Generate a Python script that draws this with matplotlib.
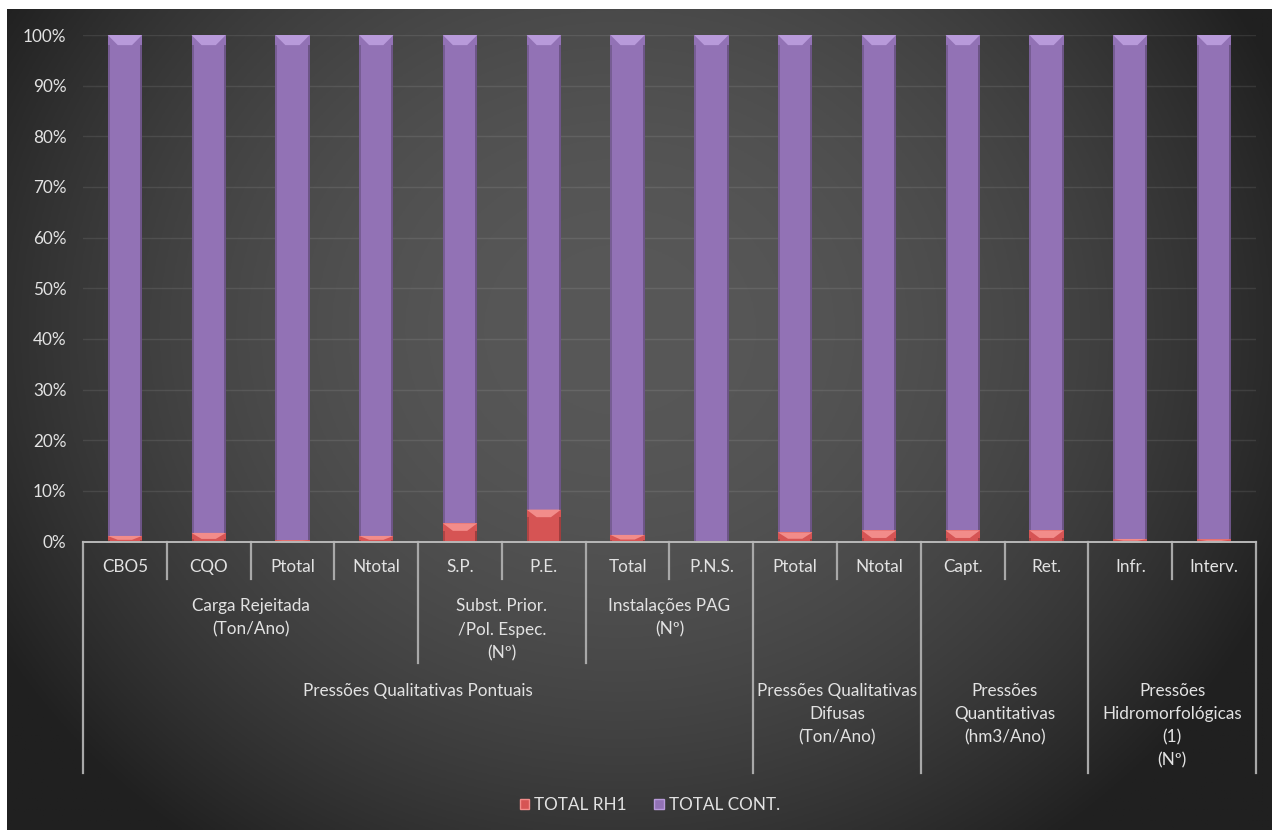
import numpy as np
import matplotlib
matplotlib.use("Agg")
import matplotlib.pyplot as plt
from matplotlib.patches import Patch, Polygon, Rectangle
from matplotlib.lines import Line2D

plt.rcParams["font.family"] = ["Lato", "DejaVu Sans"]

# --- data -------------------------------------------------------------
categories = ["CBO5", "CQO", "Ptotal", "Ntotal", "S.P.", "P.E.", "Total", "P.N.S.",
              "Ptotal", "Ntotal", "Capt.", "Ret.", "Infr.", "Interv."]
total_rh1 = [1.1, 1.7, 0.2, 1.1, 3.6, 6.3, 1.3, 0.1, 1.8, 2.2, 2.2, 2.2, 0.5, 0.4]
total_cont = [98.9, 98.3, 99.8, 98.9, 96.4, 93.7, 98.7, 99.9, 98.2, 97.8, 97.8, 97.8, 99.5, 99.6]
series_names = ["TOTAL RH1", "TOTAL CONT."]

# (label, first category, last category)
level2_groups = [
    ("Carga Rejeitada\n(Ton/Ano)", 0, 3),
    ("Subst. Prior.\n/Pol. Espec.\n(Nº)", 4, 5),
    ("Instalações PAG\n(Nº)", 6, 7),
]
level3_groups = [
    ("Pressões Qualitativas Pontuais", 0, 7),
    ("Pressões Qualitativas\nDifusas\n(Ton/Ano)", 8, 9),
    ("Pressões\nQuantitativas\n(hm3/Ano)", 10, 11),
    ("Pressões\nHidromorfológicas\n(1)\n(Nº)", 12, 13),
]
y_ticks = list(range(0, 101, 10))

# --- style ------------------------------------------------------------
W, H = 1272, 830
RED, RED_CAP = "#d65454", "#f28c8a"
PURPLE, PURPLE_CAP = "#9272b5", "#b89ada"
TEXT = "#e2e2e2"
LINE = "#a8a8a8"
FS = 12.3

Y0_PX, Y100_PX = 541.5, 35.0
X_LEFT_PX, X_RIGHT_PX = 83.0, 1256.0


def ypx(y):
    # pixel row -> axes fraction of the main axes
    return (Y0_PX - y) / (Y0_PX - Y100_PX)


fig = plt.figure(figsize=(W / 100, H / 100), dpi=100, facecolor="white")

# radial dark background (white margin top / left like the source)
bg = fig.add_axes([7 / W, 0, 1 - 7 / W, (H - 9) / H], zorder=-10)
xx, yy = np.meshgrid(np.linspace(7, W, 400), np.linspace(9, H, 300))
r = np.sqrt(((xx - 620) / 720) ** 2 + ((yy - 330) / 640) ** 2)
f = np.clip(r, 0, 1) ** 2
shade = (88 - 56 * f) / 255.0
bg.imshow(np.dstack([shade, shade, shade]), aspect="auto", extent=[0, 1, 0, 1], origin="upper")
bg.set_axis_off()

ax = fig.add_axes([X_LEFT_PX / W, (H - Y0_PX) / H, (X_RIGHT_PX - X_LEFT_PX) / W,
                   (Y0_PX - Y100_PX) / H])
ax.set_facecolor("none")

x = np.arange(len(categories))
rh1 = np.array(total_rh1)
cont = np.array(total_cont)
tot = rh1 + cont
rh1_pct = rh1 / tot * 100
cont_pct = cont / tot * 100

width = 0.41
b1 = ax.bar(x, rh1_pct, width, color=RED, zorder=3)
b2 = ax.bar(x, cont_pct, width, bottom=rh1_pct, color=PURPLE, zorder=3)


def add_caps(bars, cap_color, max_cap):
    for p in bars:
        h = p.get_height()
        if h <= 0:
            continue
        x0, y0, w = p.get_x(), p.get_y(), p.get_width()
        top = y0 + h
        ch = min(max_cap, 0.7 * h)
        inset = min(0.12, w * 0.3)
        ax.add_patch(Polygon([(x0, top), (x0 + w, top), (x0 + w - inset, top - ch),
                              (x0 + inset, top - ch)], closed=True,
                             facecolor=cap_color, edgecolor="none", zorder=4))
        # darker side edges
        ax.add_patch(Rectangle((x0, y0), w * 0.06, h - ch, facecolor="black", alpha=0.18,
                               edgecolor="none", zorder=4))
        ax.add_patch(Rectangle((x0 + w * 0.94, y0), w * 0.06, h - ch, facecolor="black",
                               alpha=0.25, edgecolor="none", zorder=4))


add_caps(b1, RED_CAP, 1.5)
add_caps(b2, PURPLE_CAP, 2.0)

ax.set_xlim(-0.5, len(categories) - 0.5)
ax.set_ylim(0, 100)
ax.set_yticks(y_ticks)
ax.set_yticklabels([f"{t}%" for t in y_ticks], color=TEXT, fontsize=FS)
ax.tick_params(axis="y", length=0, pad=12)
ax.set_xticks([])
ax.grid(axis="y", color="white", alpha=0.09, linewidth=1, zorder=0)
for s in ["top", "right", "left"]:
    ax.spines[s].set_visible(False)
ax.spines["bottom"].set_color("#b8b8b8")
ax.spines["bottom"].set_linewidth(1.4)
ax.spines["bottom"].set_zorder(5)

trans = ax.get_xaxis_transform()

# leaf labels
for xi, lab in zip(x, categories):
    ax.text(xi, ypx(567), lab, transform=trans, ha="center", va="center",
            color=TEXT, fontsize=FS, clip_on=False)

# separator lines
n = len(categories)
ends = {}
for b in range(n + 1):
    ends[b] = 579
for _, s, e in level2_groups:
    ends[s] = max(ends[s], 663)
    ends[e + 1] = max(ends[e + 1], 663)
for _, s, e in level3_groups:
    ends[s] = 773
    ends[e + 1] = 773
for b, yend in ends.items():
    ax.add_line(Line2D([b - 0.5, b - 0.5], [ypx(Y0_PX), ypx(yend)], transform=trans,
                       color=LINE, linewidth=1.6, clip_on=False))


def group_text(groups, y_first, step):
    for lab, s, e in groups:
        xc = (s + e) / 2
        for k, line in enumerate(lab.split("\n")):
            ax.text(xc, ypx(y_first + k * step), line, transform=trans, ha="center",
                    va="center", color=TEXT, fontsize=FS, clip_on=False)


group_text(level2_groups, 606, 23.5)
group_text(level3_groups, 691, 23.2)

handles = [Patch(facecolor=RED, edgecolor=RED_CAP), Patch(facecolor=PURPLE, edgecolor=PURPLE_CAP)]
fig.legend(handles, series_names, loc="center", bbox_to_anchor=(650 / W, (H - 805) / H),
           ncol=2, frameon=False, fontsize=FS, labelcolor=TEXT, handlelength=0.55,
           handleheight=0.55, handletextpad=0.3, columnspacing=1.6)

fig.savefig("out.png", dpi=100, facecolor="white")
